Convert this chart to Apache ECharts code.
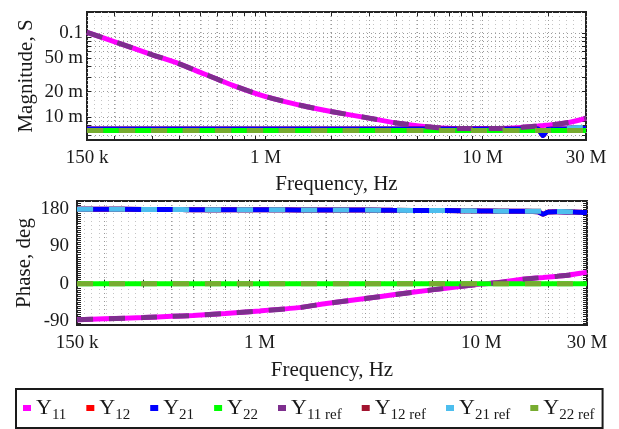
<!DOCTYPE html>
<html>
<head>
<meta charset="utf-8">
<script src="https://cdn.jsdelivr.net/npm/echarts@6/dist/echarts.min.js"></script>
<style>
  html, body { margin: 0; padding: 0; background: #fff; }
  #chart { width: 619px; height: 429px; }
</style>
</head>
<body>
<div id="chart"></div>
<script>
// frequency points (Hz)
const freqHz = [150e3, 200e3, 300e3, 400e3, 500e3, 700e3, 1e6, 1.5e6, 2e6, 3e6, 4e6, 6e6, 8e6,
  10e6, 12e6, 15e6, 18e6, 19e6, 20e6, 22e6, 25e6, 28e6, 30e6]

// magnitude, S
const y11Mag = [0.102, 0.079, 0.055, 0.043, 0.034, 0.024, 0.0175, 0.0135, 0.0116, 0.0097, 0.0085, 0.0075, 0.0073,
  0.0073, 0.0073, 0.0075, 0.0078, 0.0079, 0.0080, 0.0082, 0.0086, 0.0092, 0.0097]
const y12Mag = [0.0072, 0.0072, 0.0072, 0.0072, 0.0072, 0.0072, 0.0072, 0.0072, 0.0072, 0.0072, 0.0072, 0.0072, 0.0072,
  0.0072, 0.0072, 0.0072, 0.0072, 0.0060, 0.0071, 0.0072, 0.0072, 0.0073, 0.0073]
const y21Mag = [0.0072, 0.0072, 0.0072, 0.0072, 0.0072, 0.0072, 0.0072, 0.0072, 0.0072, 0.0072, 0.0072, 0.0072, 0.0072,
  0.0072, 0.0072, 0.0072, 0.0072, 0.0060, 0.0071, 0.0072, 0.0072, 0.0073, 0.0073]
const y22Mag = [0.0069, 0.0069, 0.0069, 0.0069, 0.0069, 0.0069, 0.0069, 0.0069, 0.0069, 0.0069, 0.0069, 0.0069, 0.0069,
  0.0069, 0.0069, 0.0069, 0.0069, 0.0069, 0.0069, 0.0069, 0.0069, 0.0069, 0.0069]
const y11RefMag = [0.102, 0.079, 0.055, 0.043, 0.034, 0.024, 0.0175, 0.0135, 0.0116, 0.0097, 0.0085, 0.0075, 0.0073,
  0.0073, 0.0073, 0.0075, 0.0078, 0.0079, 0.0080, 0.0082, 0.0086, 0.0092, 0.0097]
const y12RefMag = [0.0069, 0.0069, 0.0069, 0.0069, 0.0069, 0.0069, 0.0069, 0.0069, 0.0069, 0.0069, 0.0069, 0.0069, 0.0069,
  0.0069, 0.0069, 0.0069, 0.0069, 0.0069, 0.0069, 0.0071, 0.0074, 0.0075, 0.0075]
const y21RefMag = [0.0069, 0.0069, 0.0069, 0.0069, 0.0069, 0.0069, 0.0069, 0.0069, 0.0069, 0.0069, 0.0069, 0.0069, 0.0069,
  0.0069, 0.0069, 0.0069, 0.0069, 0.0069, 0.0069, 0.0071, 0.0074, 0.0075, 0.0075]
const y22RefMag = [0.0069, 0.0069, 0.0069, 0.0069, 0.0069, 0.0069, 0.0069, 0.0069, 0.0069, 0.0069, 0.0069, 0.0069, 0.0069,
  0.0069, 0.0069, 0.0069, 0.0069, 0.0069, 0.0069, 0.0069, 0.0069, 0.0069, 0.0069]

// phase, deg
const y11Phase = [-87, -85, -82, -79, -77, -72, -66, -58, -48, -36, -27, -15, -7,
  -1, 3, 10, 14, 15, 16, 18, 21, 25, 28]
const y12Phase = [180, 180, 179.5, 179.5, 179, 179, 179, 178.5, 178, 178, 177.5, 177, 176.5,
  176, 175.5, 175, 174, 168, 173, 174, 173.5, 173, 172]
const y21Phase = [180, 180, 179.5, 179.5, 179, 179, 179, 178.5, 178, 178, 177.5, 177, 176.5,
  176, 175.5, 175, 174, 168, 173, 174, 173.5, 173, 172]
const y22Phase = [0, 0, 0, 0, 0, 0, 0, 0, 0, 0, 0, 0, 0,
  0, 0, 0, 0, 0, 0, 0, 0, 0, 0]
const y11RefPhase = [-87, -85, -82, -79, -77, -72, -66, -58, -48, -36, -27, -15, -7,
  -1, 3, 10, 14, 15, 16, 18, 21, 25, 28]
const y12RefPhase = [180, 180, 179.5, 179.5, 179, 179, 179, 178.5, 178, 178, 177.5, 177, 176.5,
  176, 175.5, 175, 175, 175, 175, 174.5, 174, 172, 165]
const y21RefPhase = [180, 180, 179.5, 179.5, 179, 179, 179, 178.5, 178, 178, 177.5, 177, 176.5,
  176, 175.5, 175, 175, 175, 175, 174.5, 174, 172, 165]
const y22RefPhase = [0, 0, 0, 0, 0, 0, 0, 0, 0, 0, 0, 0, 0,
  0, 0, 0, 0, 0, 0, 0, 0, 0, 0]

// tick labels
const freqLabels = [150e3, 1e6, 10e6, 30e6]
const magLabels = [0.01, 0.02, 0.05, 0.1]
const phaseLabels = [-90, 0, 90, 180]

const names = ['Y11', 'Y12', 'Y21', 'Y22', 'Y11 ref', 'Y12 ref', 'Y21 ref', 'Y22 ref']
const colors = ['#ff00ff', '#ff0000', '#0000ff', '#00ff00', '#7e2f8e', '#a2142f', '#4dbeee', '#77ac30']
const magData = [y11Mag, y12Mag, y21Mag, y22Mag, y11RefMag, y12RefMag, y21RefMag, y22RefMag]
const phaseData = [y11Phase, y12Phase, y21Phase, y22Phase, y11RefPhase, y12RefPhase, y21RefPhase, y22RefPhase]

const FONT = 'Liberation Serif'
const lg = Math.log10
const X0 = lg(150e3)
const X1 = lg(30e6)
const MAG0 = lg(0.00532)
const MAG1 = lg(0.178)

// log minor positions 2..9 per decade
const xMinor = []
for (let d = 1e5; d <= 1e7; d *= 10) {
  for (let m = 1; m <= 9; m++) {
    const f = m * d
    if (f >= 150e3 && f <= 30e6) xMinor.push(lg(f))
  }
}
xMinor.unshift(X0)
const xDense = []
for (let v = X0; v < X1; v += 0.033) xDense.push(v)
const magMinor = []
for (let d = 1e-3; d <= 0.1; d *= 10) {
  for (let m = 1; m <= 9; m++) {
    const v = m * d
    if (v >= 0.00532 && v <= 0.178) magMinor.push(lg(v))
  }
}
const phaseMinor = []
for (let p = -100; p <= 200; p += 5) phaseMinor.push(p)

function freqFmt(v) {
  const f = Math.pow(10, v)
  if (f >= 1e6) return Math.round(f / 1e6) + ' M'
  return Math.round(f / 1e3) + ' k'
}
function magFmt(v) {
  const m = Math.pow(10, v)
  if (m >= 0.1 - 1e-9) return '0.1'
  return Math.round(m * 1000) + ' m'
}

const tickStyle = { color: '#222', width: 1 }
const labelStyle = { fontFamily: FONT, fontSize: 19, color: '#1a1a1a' }
const nameStyle = { fontFamily: FONT, fontSize: 21, color: '#1a1a1a' }
const gridDots = { color: '#9a9a9a', type: [1, 3], width: 1 }
const gridDense = { color: '#c4c4c4', type: [1, 3], width: 1 }

function xAxes(gridIndex, min, max, nameGap) {
  return [
    {
      gridIndex, type: 'value', position: 'bottom', min, max,
      axisLine: { show: false },
      axisTick: { show: true, inside: true, length: 4, customValues: xMinor, lineStyle: tickStyle },
      axisLabel: { customValues: freqLabels.map(lg), formatter: freqFmt, margin: 9, ...labelStyle },
      splitLine: { show: true, lineStyle: gridDots },
      name: 'Frequency, Hz', nameLocation: 'middle', nameGap, nameTextStyle: nameStyle
    },
    {
      gridIndex, type: 'value', position: 'top', min, max,
      axisLine: { show: false },
      axisTick: { show: true, inside: true, length: 4, customValues: xMinor, lineStyle: tickStyle },
      axisLabel: { show: false },
      splitLine: { show: false }
    },
    {
      gridIndex, type: 'value', position: 'bottom', min, max,
      axisLine: { show: false },
      axisTick: { show: false, customValues: xDense },
      axisLabel: { show: false },
      splitLine: { show: true, lineStyle: gridDense }
    }
  ]
}

const series = []
names.forEach((name, i) => {
  const isRef = i >= 4
  const lineStyle = { color: colors[i], width: 5, type: isRef ? [16, 16] : 'solid' }
  series.push({
    name, type: 'line', xAxisIndex: 0, yAxisIndex: 0, showSymbol: false, smooth: 0.2,
    itemStyle: { color: colors[i] }, lineStyle,
    data: freqHz.map((f, k) => [lg(f), lg(magData[i][k])])
  })
  series.push({
    name, type: 'line', xAxisIndex: 3, yAxisIndex: 2, showSymbol: false, smooth: 0.2,
    itemStyle: { color: colors[i] }, lineStyle,
    data: freqHz.map((f, k) => [lg(f), phaseData[i][k]])
  })
})

const chart = echarts.init(document.getElementById('chart'), null, { renderer: 'canvas' })
chart.setOption({
  animation: false,
  backgroundColor: '#fff',
  textStyle: { fontFamily: FONT },
  grid: [
    { left: 87, top: 12, width: 499, height: 128, show: true, borderColor: '#222', borderWidth: 2 },
    { left: 77, top: 201, width: 510, height: 124, show: true, borderColor: '#222', borderWidth: 2 }
  ],
  xAxis: [...xAxes(0, X0, X1, 34), ...xAxes(1, X0, X1, 35)],
  yAxis: [
    {
      gridIndex: 0, type: 'value', position: 'left', min: MAG0, max: MAG1,
      axisLine: { show: false },
      axisTick: { show: true, inside: true, length: 4, customValues: magMinor, lineStyle: tickStyle },
      axisLabel: { customValues: magLabels.map(lg), formatter: magFmt, margin: 4, ...labelStyle },
      splitLine: { show: true, lineStyle: gridDots },
      name: 'Magnitude, S', nameLocation: 'middle', nameGap: 50, nameMoveOverlap: false, nameTextStyle: nameStyle
    },
    {
      gridIndex: 0, type: 'value', position: 'right', min: MAG0, max: MAG1,
      axisLine: { show: false },
      axisTick: { show: true, inside: true, length: 4, customValues: magMinor, lineStyle: tickStyle },
      axisLabel: { show: false },
      splitLine: { show: false }
    },
    {
      gridIndex: 1, type: 'value', position: 'left', min: -100, max: 200,
      axisLine: { show: false },
      axisTick: { show: true, inside: true, length: 4, customValues: phaseMinor, lineStyle: tickStyle },
      axisLabel: { customValues: phaseLabels, margin: 8, ...labelStyle },
      splitLine: { show: false },
      name: 'Phase, deg', nameLocation: 'middle', nameGap: 42, nameMoveOverlap: false, nameTextStyle: nameStyle
    },
    {
      gridIndex: 1, type: 'value', position: 'right', min: -100, max: 200,
      axisLine: { show: false },
      axisTick: { show: true, inside: true, length: 4, customValues: phaseMinor, lineStyle: tickStyle },
      axisLabel: { show: false },
      splitLine: { show: false }
    }
  ],
  legend: {
    data: names,
    left: 16,
    top: 389,
    orient: 'horizontal',
    icon: 'rect',
    itemWidth: 8,
    itemHeight: 6,
    itemGap: 20,
    padding: [4, 8, 5, 7],
    borderColor: '#1a1a1a',
    borderWidth: 2,
    formatter: function(name) {
      const sub = name.slice(1)
      return '{m|Y}{s|' + sub + '}'
    },
    textStyle: {
      fontFamily: FONT,
      color: '#1a1a1a',
      rich: {
        m: { fontFamily: FONT, fontSize: 22, lineHeight: 30, color: '#1a1a1a' },
        s: { fontFamily: FONT, fontSize: 15, lineHeight: 18, padding: [15, 0, 0, 0], color: '#1a1a1a' }
      }
    }
  },
  series
})
</script>
</body>
</html>
